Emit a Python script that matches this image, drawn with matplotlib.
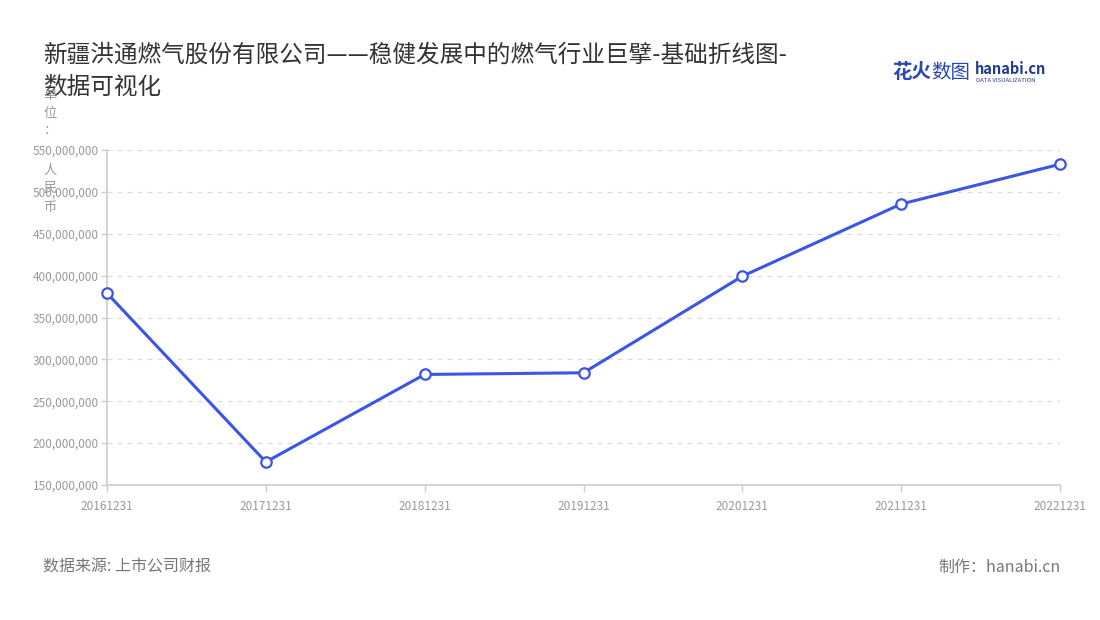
import matplotlib
matplotlib.use("Agg")
import matplotlib.pyplot as plt
from matplotlib.ticker import FuncFormatter

plt.rcParams['font.family'] = ['Noto Sans CJK SC', 'DejaVu Sans']

categories = ["20161231", "20171231", "20181231", "20191231", "20201231", "20211231", "20221231"]
values = [379000000, 177500000, 282000000, 284000000, 399300000, 485500000, 533000000]
yticks = [150000000, 200000000, 250000000, 300000000, 350000000, 400000000, 450000000, 500000000, 550000000]

title_line1 = "新疆洪通燃气股份有限公司——稳健发展中的燃气行业巨擘-基础折线图-"
title_line2 = "数据可视化"
source = "数据来源: 上市公司财报"
credit = "制作：hanabi.cn"

fig = plt.figure(figsize=(11, 6.2), dpi=100)
ax = fig.add_axes([107/1100, 1-485/620, (1060-107)/1100, (485-150)/620])

x = list(range(len(categories)))
ax.plot(x, values, color="#3b55e6", linewidth=2.2, marker="o", markersize=7.5,
        markerfacecolor="white", markeredgecolor="#3b55e6", markeredgewidth=1.6,
        zorder=5, clip_on=False)

ax.set_xlim(0, len(categories)-1)
ax.set_ylim(150000000, 550000000)
ax.set_xticks(x)
ax.set_xticklabels(categories)
ax.set_yticks(yticks)
ax.yaxis.set_major_formatter(FuncFormatter(lambda v, p: f"{int(v):,}"))

for yv in yticks[1:]:
    ax.axhline(yv, color="#dddddd", linewidth=0.9, linestyle=(0, (4, 4)), zorder=1)

for s in ["top", "right"]:
    ax.spines[s].set_visible(False)
for s in ["left", "bottom"]:
    ax.spines[s].set_color("#cccccc")
    ax.spines[s].set_linewidth(1.2)

ax.tick_params(axis="both", colors="#cccccc", labelcolor="#999999", labelsize=8.5, length=4, width=1)
ax.tick_params(axis="x", length=5, pad=6)
ax.tick_params(axis="y", pad=2)

fig.text(43/1100, 1-55/620, title_line1, fontsize=17, color="#333333", ha="left", va="center")
fig.text(43/1100, 1-87/620, title_line2, fontsize=17, color="#333333", ha="left", va="center")

# y-axis unit label, vertical stacked characters
unit_chars = [("单", 95), ("位", 113), ("：", 131), ("人", 170), ("民", 188), ("币", 207)]
for ch, yy in unit_chars:
    fig.text(50/1100, 1-yy/620, ch, fontsize=9.5, color="#999999", ha="center", va="center")

fig.text(43/1100, 1-567/620, source, fontsize=11.5, color="#777777", ha="left", va="center")
fig.text(1061/1100, 1-567/620, credit, fontsize=11.5, color="#777777", ha="right", va="center")

# logo
fig.text(892/1100, 1-72/620, "花火", fontsize=14, color="#2848b0", ha="left", va="center", fontweight="bold")
fig.text(931/1100, 1-72/620, "数图", fontsize=14, color="#2848b0", ha="left", va="center")
fig.text(975/1100, 1-69/620, "hanabi.cn", fontsize=10.5, color="#1f3a8f", ha="left", va="center", fontweight="bold")
fig.text(976/1100, 1-81/620, "DATA VISUALIZATION", fontsize=4.3, color="#1f3a8f", ha="left", va="center")

fig.savefig("out.png", dpi=100, facecolor="white")
